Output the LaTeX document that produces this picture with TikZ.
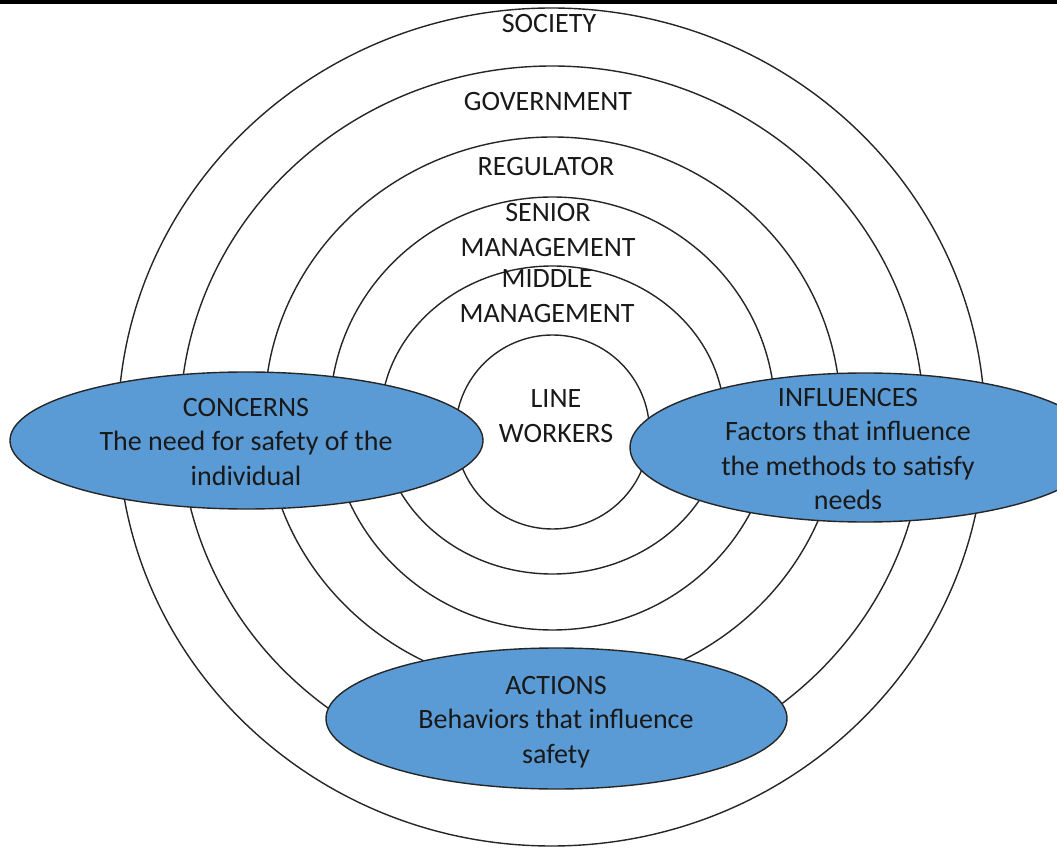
\documentclass[tikz,border=0pt]{standalone}
\usepackage{fontspec}
\setmainfont{Carlito}
\usetikzlibrary{shapes.geometric}
\definecolor{ovalblue}{RGB}{91,155,213}
\tikzset{
  ring/.style={draw=black!85, line width=1.4pt, ellipse, inner sep=0pt},
  oval/.style={draw=black!85, fill=ovalblue, line width=1.4pt, ellipse, inner sep=0pt},
  lbl/.style={align=center, inner sep=0pt, font=\fontsize{28}{34.5}\selectfont, text=black!90},
}
\begin{document}
\begin{tikzpicture}[x=1pt,y=1pt]
\fill[white] (0,0) rectangle (1057,847);
\useasboundingbox (0,0) rectangle (1057,847);
\fill[black] (0,843) rectangle (1057,847);
% concentric rings
\node[ring, minimum width=867pt, minimum height=838pt] (society) at (551.5,420) {};
\node[ring, minimum width=744pt, minimum height=714pt] (government) at (552,424) {};
\node[ring, minimum width=576pt, minimum height=553pt] (regulator) at (552.5,433.5) {};
\node[ring, minimum width=445pt, minimum height=433pt] (senior) at (552.5,433.5) {};
\node[ring, minimum width=344pt, minimum height=308pt] (middle) at (552.5,427) {};
\node[ring, minimum width=194pt, minimum height=194pt] (workers) at (552.5,415) {};
% ring labels
\node[lbl] (tsociety) at (549,823) {SOCIETY};
\node[lbl] (tgov) at (548,745) {GOVERNMENT};
\node[lbl] (treg) at (546,680) {REGULATOR};
\node[lbl] (tsenior) at (548,617) {SENIOR\\MANAGEMENT};
\node[lbl] (tmiddle) at (547,551) {MIDDLE\\MANAGEMENT};
\node[lbl] (tworkers) at (556,431) {LINE\\WORKERS};
% ovals
\node[oval, minimum width=473pt, minimum height=137pt] (concerns) at (246.5,406.5) {};
\node[lbl] (tconcerns) at (246,405) {CONCERNS\\The need for safety of the\\individual};
\node[oval, minimum width=470pt, minimum height=149pt] (influences) at (865,399.5) {};
\node[lbl] (tinfluences) at (848,398) {INFLUENCES\\Factors that influence\\the methods to satisfy\\needs};
\node[oval, minimum width=461pt, minimum height=141pt] (actions) at (556.5,128.5) {};
\node[lbl] (tactions) at (556,125) {ACTIONS\\Behaviors that influence\\safety};
\end{tikzpicture}
\end{document}
